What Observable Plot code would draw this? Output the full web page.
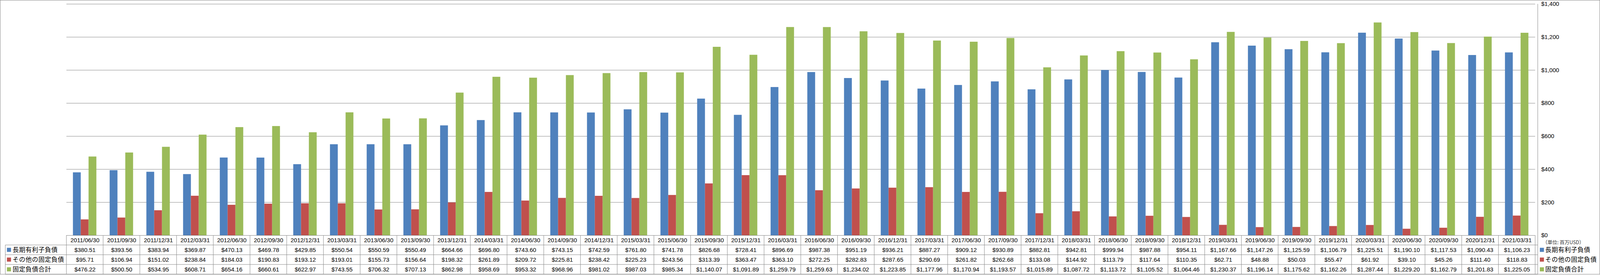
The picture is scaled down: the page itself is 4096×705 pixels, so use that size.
<!DOCTYPE html>
<html><head><meta charset="utf-8">
<script src="https://cdn.jsdelivr.net/npm/d3@7"></script>
<script src="https://cdn.jsdelivr.net/npm/@observablehq/plot@0.6"></script>
<style>html,body{margin:0;padding:0;background:#fff;}</style>
</head><body><div id="chart"></div>
<script>
const dates = ["2011/06/30","2011/09/30","2011/12/31","2012/03/31","2012/06/30","2012/09/30","2012/12/31","2013/03/31","2013/06/30","2013/09/30","2013/12/31","2014/03/31","2014/06/30","2014/09/30","2014/12/31","2015/03/31","2015/06/30","2015/09/30","2015/12/31","2016/03/31","2016/06/30","2016/09/30","2016/12/31","2017/03/31","2017/06/30","2017/09/30","2017/12/31","2018/03/31","2018/06/30","2018/09/30","2018/12/31","2019/03/31","2019/06/30","2019/09/30","2019/12/31","2020/03/31","2020/06/30","2020/09/30","2020/12/31","2021/03/31"];
const longTermDebt = [380.51,393.56,383.94,369.87,470.13,469.78,429.85,550.54,550.59,550.49,664.66,696.80,743.60,743.15,742.59,761.80,741.78,826.68,728.41,896.69,987.38,951.19,936.21,887.27,909.12,930.89,882.81,942.81,999.94,987.88,954.11,1167.66,1147.26,1125.59,1106.79,1225.51,1190.10,1117.53,1090.43,1106.23];
const otherFixed = [95.71,106.94,151.02,238.84,184.03,190.83,193.12,193.01,155.73,156.64,198.32,261.89,209.72,225.81,238.42,225.23,243.56,313.39,363.47,363.10,272.25,282.83,287.65,290.69,261.82,262.68,133.08,144.92,113.79,117.64,110.35,62.71,48.88,50.03,55.47,61.92,39.10,45.26,111.40,118.83];
const totalFixed = [476.22,500.50,534.95,608.71,654.16,660.61,622.97,743.55,706.32,707.13,862.98,958.69,953.32,968.96,981.02,987.03,985.34,1140.07,1091.89,1259.79,1259.63,1234.02,1223.85,1177.96,1170.94,1193.57,1015.89,1087.72,1113.72,1105.52,1064.46,1230.37,1196.14,1175.62,1162.26,1287.44,1229.20,1162.79,1201.83,1225.05];
const seriesNames = ["長期有利子負債","その他の固定負債","固定負債合計"];
const seriesColors = ["#4F81BD","#C0504D","#9BBB59"];
const yTicks = [0,200,400,600,800,1000,1200,1400];
const unitLabel = "（単位: 百万USD）";

const seriesValues = [longTermDebt, otherFixed, totalFixed];
const rows = [];
seriesNames.forEach((s, i) => dates.forEach((d, j) => rows.push({date: d, series: s, value: seriesValues[i][j], si: i})));

const W = 4096, H = 705;
const mL = 164.3, mR = W - 3936.7, mT = 9.9, mB = H - 603;
const rowH = 25;
const fmt = d3.format("$,.2f");
const gridColor = "#868686";
const FONT = "'Liberation Sans', 'Noto Sans CJK JP', sans-serif";
const CJK = "'Noto Sans CJK JP', sans-serif";

const tableText = [];
tableText.push(Plot.text(dates, {fx: d => d, text: d => d, frameAnchor: "bottom", dy: rowH/2, lineAnchor: "middle", fontSize: 15, fill: "#000"}));
seriesNames.forEach((s, i) => {
  tableText.push(Plot.text(rows.filter(r => r.si === i), {fx: "date", text: d => fmt(d.value), frameAnchor: "bottom", dy: rowH*(i+1) + rowH/2, lineAnchor: "middle", fontSize: 15, fill: "#000"}));
});

const plot = Plot.plot({
  width: W, height: H,
  marginLeft: mL, marginRight: mR, marginTop: mT, marginBottom: mB,
  style: {fontFamily: FONT, fontSize: "15px", color: "#000", background: "transparent", overflow: "visible"},
  fx: {domain: dates, padding: 0, axis: null},
  x: {domain: seriesNames, paddingInner: 0, paddingOuter: 0.75, axis: null},
  y: {domain: [0, 1400], ticks: 7, axis: "right", tickSize: 0, tickPadding: 15, tickFormat: d3.format("$,"), label: null},
  color: {domain: seriesNames, range: seriesColors},
  marks: [
    Plot.ruleY(yTicks, {stroke: gridColor, strokeWidth: 1}),
    Plot.barY(rows, {fx: "date", x: "series", y: "value", fill: "series"}),
    ...tableText
  ]
});
document.getElementById("chart").appendChild(plot);

// table lines, row headers, legend and borders using the plot's scales
const svg = d3.select(plot);
const fx = plot.scale("fx");
const yS = plot.scale("y");
const y0 = yS.apply(0);
const left = fx.range[0], right = fx.range[1];
const bw = fx.bandwidth;
const tableLeft = 13.6;
const g = svg.append("g").attr("stroke", gridColor).attr("stroke-width", 1).attr("fill", "none");
const edges = dates.map(d => fx.apply(d)).concat([fx.apply(dates[dates.length-1]) + bw]);
edges.forEach(x => g.append("line").attr("x1", x).attr("x2", x).attr("y1", y0).attr("y2", y0 + 4*rowH));
g.append("line").attr("x1", right).attr("x2", right).attr("y1", yS.apply(1400)).attr("y2", y0 + 4*rowH);
g.append("line").attr("x1", tableLeft).attr("x2", tableLeft).attr("y1", y0 + rowH).attr("y2", y0 + 4*rowH);
for (let r = 1; r <= 4; r++) {
  g.append("line").attr("x1", tableLeft).attr("x2", right).attr("y1", y0 + r*rowH).attr("y2", y0 + r*rowH);
}
g.append("rect").attr("x", 0.5).attr("y", 0.5).attr("width", W - 1).attr("height", y0 + 4*rowH - 0.5);

const lab = svg.append("g").attr("font-family", CJK).attr("font-size", 16).attr("text-anchor", "start").attr("fill", "#000");
seriesNames.forEach((s, i) => {
  const cy = y0 + rowH*(i+1) + rowH/2;
  lab.append("rect").attr("x", 17.7).attr("y", cy - 5.25).attr("width", 10.5).attr("height", 10.5).attr("fill", seriesColors[i]);
  lab.append("text").attr("x", 32.2).attr("y", cy).attr("dy", "0.35em").attr("text-anchor", "start").attr("letter-spacing", "0.5px").text(s);
  lab.append("rect").attr("x", 3942).attr("y", cy - 5.25).attr("width", 10.5).attr("height", 10.5).attr("fill", seriesColors[i]);
  lab.append("text").attr("x", 3955.8).attr("y", cy).attr("dy", "0.35em").attr("text-anchor", "start").attr("letter-spacing", "0.5px").text(s);
});
lab.append("text").attr("x", 3949).attr("y", y0 + 19).attr("dy", "0.35em").attr("text-anchor", "start").attr("font-size", 12.5).attr("fill", "#333").text(unitLabel);
</script>
</body></html>
